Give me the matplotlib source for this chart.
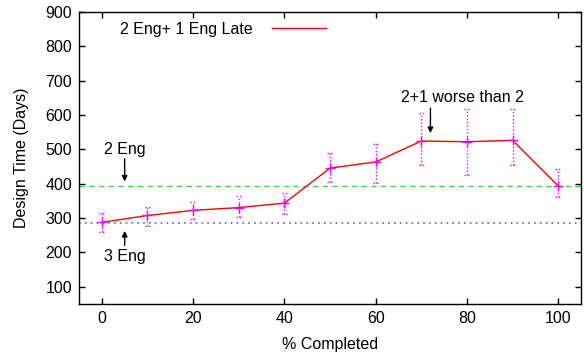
import numpy as np
import matplotlib.pyplot as plt

plt.rcParams['font.family'] = ['Liberation Sans', 'DejaVu Sans']
plt.rcParams['font.size'] = 11.5

# --- data ---
pct = [0, 10, 20, 30, 40, 50, 60, 70, 80, 90, 100]
late = [287, 307, 322, 330, 343, 445, 463, 524, 522, 526, 393]
err_lo = [258, 275, 297, 302, 312, 406, 401, 454, 425, 454, 360]
err_hi = [314, 331, 346, 365, 372, 490, 515, 605, 617, 617, 442]
two_eng = 394
three_eng = 286

fig = plt.figure(figsize=(5.84, 3.58), dpi=100)
ax = fig.add_axes([0.1353, 0.1517, 0.8596, 0.8148])

# reference lines
ax.axhline(two_eng, color='#00dd00', ls=(0, (4, 3)), lw=1, alpha=0.8)
ax.axhline(three_eng, color='#3333ff', ls=(0, (1, 2.5)), lw=1.2, alpha=0.8)

# error bars (dotted, with dotted caps)
x = np.array(pct, dtype=float)
ax.vlines(x, err_lo, err_hi, colors='magenta', linestyles=(0, (1, 1.5)), lw=1)
cw = 0.6
for lim in (err_lo, err_hi):
    ax.hlines(lim, x - cw, x + cw, colors='magenta', linestyles=(0, (1, 1.5)), lw=1)

# main series
ax.plot(pct, late, color='red', lw=1, label='2 Eng+ 1 Eng Late')
ax.plot(pct, late, ls='none', marker='+', ms=7, mew=1, color='magenta')

# annotations
arr = dict(arrowstyle='-|>', color='black', lw=1, shrinkA=0, shrinkB=0, mutation_scale=8)
ax.text(5, 498, '2 Eng', ha='center', va='center')
ax.annotate('', xy=(5, 406), xytext=(5, 472), arrowprops=arr)
ax.text(5, 188, '3 Eng', ha='center', va='center')
ax.annotate('', xy=(5, 262), xytext=(5, 220), arrowprops=arr)
ax.text(79, 652, '2+1 worse than 2', ha='center', va='center')
ax.annotate('', xy=(72, 547), xytext=(72, 620), arrowprops=arr)

ax.set_xlim(-5, 105)
ax.set_ylim(50, 900)
ax.set_xticks(range(0, 101, 20))
ax.set_yticks(range(100, 901, 100))
ax.tick_params(direction='in', length=4, top=True, right=True, width=1, pad=5)
for s in ax.spines.values():
    s.set_linewidth(1)
ax.set_xlabel('% Completed', labelpad=8)
ax.set_ylabel('Design Time (Days)', labelpad=12)

leg = ax.legend(loc='upper left', bbox_to_anchor=(0.062, 1.0), frameon=False,
                markerfirst=False, handlelength=3.4, handletextpad=1.2,
                borderaxespad=0.2)

fig.savefig('out.png', dpi=100)
